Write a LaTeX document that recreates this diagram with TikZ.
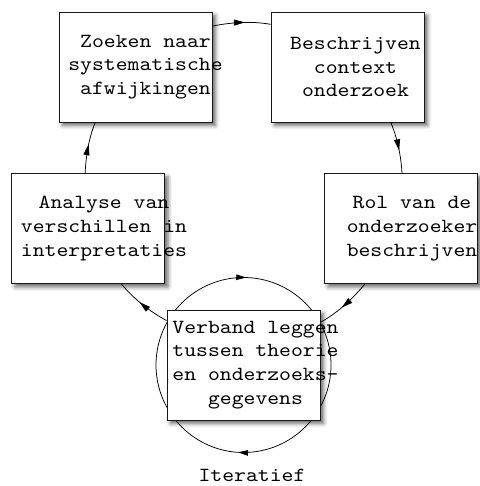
\documentclass[tikz,border=0pt]{standalone}
\usepackage{fontspec}
\newfontfamily\boxfont[FakeStretch=1.13]{lmmono10-regular.otf}
\usetikzlibrary{arrows.meta,decorations.markings,shadows.blur}
\begin{document}
\begin{tikzpicture}[x=1pt,y=1pt,
  stepbox/.style={draw=black!90, line width=0.9pt, fill=white,
    minimum width=153pt, minimum height=110pt, inner sep=0pt,
    blur shadow={shadow xshift=3.5pt, shadow yshift=-3.5pt,
      shadow blur radius=4pt, shadow opacity=60}},
  boxtext/.style={font=\boxfont\fontsize{20}{23.8}\selectfont, align=center, inner sep=0pt},
  midarrow/.style={postaction={decorate}, decoration={markings,
    mark=at position 0.56 with {\arrow{Triangle[length=11pt,width=6pt]}}}},
  link/.style={draw, line width=0.75pt, looseness=0.86, midarrow},
  itercircle/.style={draw, line width=0.75pt, postaction={decorate},
    decoration={markings,
      mark=at position 0.255 with {\arrow{Triangle[length=10pt,width=5.5pt]}},
      mark=at position 0.76 with {\arrow{Triangle[length=10pt,width=5.5pt]}}}},
]
\useasboundingbox (0,0) rectangle (479,486);

% iteration circle (behind the central box)
\coordinate (itc) at (243.5,121);
\path[itercircle] ([shift={(180:87.5)}]itc) arc[start angle=180, end angle=-180, radius=87.5];

% boxes
\node[stepbox] (A) at (135.5,419) {};
\node[stepbox] (B) at (347.5,419) {};
\node[stepbox] (C) at (88,257.5) {};
\node[stepbox] (D) at (401,257.5) {};
\node[stepbox] (E) at (itc) {};

% texts
\node[boxtext] (tA) at ([xshift=10pt]A.center) {Zoeken naar\\systematische\\afwijkingen};
\node[boxtext] (tB) at ([xshift=8pt]B.center) {Beschrijven\\context\\onderzoek};
\node[boxtext] (tC) at ([xshift=16pt]C.center) {Analyse van\\verschillen in\\interpretaties};
\node[boxtext] (tD) at ([xshift=11pt]D.center) {Rol van de\\onderzoeker\\beschrijven};
\node[boxtext] (tE) at ([xshift=12pt]E.center) {Verband leggen\\tussen theorie\\en onderzoeks-\\gegevens};
\node[boxtext] (iter) at (252,10.5) {Iteratief};

% cycle connectors
\path[link] (A.28.2) to[out=11.2, in=169.9] (B.151.5);
\path[link] (B.-52.2) to[out=-67.8, in=93.2] (D.89.3);
\path[link] (D.237) to[out=230.1, in=29] (E.29.8);
\path[link] (E.150.5) to[out=151.5, in=-50.1] (C.-59.3);
\path[link] (C.93.8) to[out=86.8, in=247.8] (A.234.2);
\end{tikzpicture}
\end{document}
